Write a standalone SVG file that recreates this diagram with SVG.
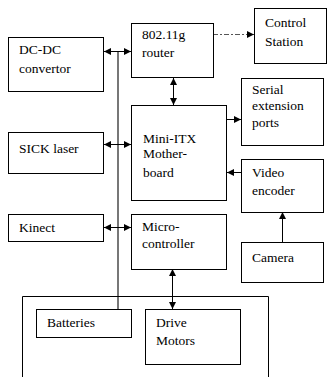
<svg xmlns="http://www.w3.org/2000/svg" width="334" height="377" viewBox="0 0 334 377">
<style>
  .box { fill: #fff; stroke: #000; stroke-width: 1; }
  .lbl { font-family: 'Liberation Serif', 'Times New Roman', 'DejaVu Serif', serif; font-size: 13.5px; fill: #000; }
  .conn { stroke: #000; stroke-width: 1; fill: none; }
  .bus { stroke: #555; stroke-width: 1.6; fill: none; }
  .dash { stroke: #555; stroke-width: 1.2; fill: none; stroke-dasharray: 5 2 2 2; }
</style>
<defs>
  <marker id="ah" viewBox="0 0 10 10" refX="10" refY="5" markerWidth="7" markerHeight="7" markerUnits="userSpaceOnUse" orient="auto-start-reverse">
    <path d="M0,0 L10,5 L0,10 Z" fill="#000"/>
  </marker>
</defs>
<rect width="334" height="377" fill="#fff"/>

<g id="connectors">
  <line class="bus" x1="118" y1="51" x2="118" y2="309"/>
  <line class="conn" x1="104" y1="51.5" x2="131" y2="51.5" marker-start="url(#ah)" marker-end="url(#ah)"/>
  <line class="conn" x1="104" y1="144.5" x2="131" y2="144.5" marker-start="url(#ah)" marker-end="url(#ah)"/>
  <line class="conn" x1="104" y1="227.5" x2="131" y2="227.5" marker-start="url(#ah)" marker-end="url(#ah)"/>
  <line class="conn" x1="173.5" y1="78" x2="173.5" y2="105" marker-start="url(#ah)" marker-end="url(#ah)"/>
  <line class="conn" x1="172.5" y1="269" x2="172.5" y2="309" marker-start="url(#ah)" marker-end="url(#ah)"/>
  <line class="dash" x1="213" y1="34.5" x2="254" y2="34.5" marker-end="url(#ah)"/>
  <line class="conn" x1="227" y1="119.5" x2="241" y2="119.5" marker-end="url(#ah)"/>
  <line class="conn" x1="241" y1="172.5" x2="227" y2="172.5" marker-end="url(#ah)"/>
  <line class="conn" x1="282.5" y1="242" x2="282.5" y2="212" marker-end="url(#ah)"/>
</g>

<g id="chassis">
  <path class="conn" d="M22.5,377 V296.5 H268.5 V377"/>
</g>

<g font-family="Liberation Serif, Times New Roman, serif">
<g id="dcdc">
  <rect class="box" x="8.5" y="37.5" width="95" height="54"/>
  <text class="lbl" x="19" y="54">DC-DC</text>
  <text class="lbl" x="19" y="73">convertor</text>
</g>

<g id="router">
  <rect class="box" x="131.5" y="23.5" width="82" height="54"/>
  <text class="lbl" x="142" y="39">802.11g</text>
  <text class="lbl" x="142" y="57">router</text>
</g>

<g id="control">
  <rect class="box" x="254.5" y="8.5" width="72" height="55"/>
  <text class="lbl" x="265" y="27">Control</text>
  <text class="lbl" x="265" y="46">Station</text>
</g>

<g id="serial">
  <rect class="box" x="241.5" y="78.5" width="82" height="67"/>
  <text class="lbl" x="252" y="94">Serial</text>
  <text class="lbl" x="252" y="110">extension</text>
  <text class="lbl" x="252" y="127">ports</text>
</g>

<g id="sick">
  <rect class="box" x="8.5" y="132.5" width="95" height="41"/>
  <text class="lbl" x="19" y="153">SICK laser</text>
</g>

<g id="motherboard">
  <rect class="box" x="131.5" y="105.5" width="95" height="95"/>
  <text class="lbl" x="143" y="143">Mini-ITX</text>
  <text class="lbl" x="143" y="158">Mother-</text>
  <text class="lbl" x="143" y="177">board</text>
</g>

<g id="video">
  <rect class="box" x="241.5" y="159.5" width="82" height="53"/>
  <text class="lbl" x="252" y="177">Video</text>
  <text class="lbl" x="252" y="195">encoder</text>
</g>

<g id="kinect">
  <rect class="box" x="8.5" y="214.5" width="95" height="27"/>
  <text class="lbl" x="19" y="232">Kinect</text>
</g>

<g id="micro">
  <rect class="box" x="131.5" y="214.5" width="95" height="55"/>
  <text class="lbl" x="142" y="231">Micro-</text>
  <text class="lbl" x="142" y="248">controller</text>
</g>

<g id="camera">
  <rect class="box" x="241.5" y="242.5" width="82" height="40"/>
  <text class="lbl" x="252" y="262">Camera</text>
</g>

<g id="batteries">
  <rect class="box" x="36.5" y="309.5" width="95" height="28"/>
  <text class="lbl" x="47" y="327">Batteries</text>
</g>

<g id="drive">
  <rect class="box" x="145.5" y="309.5" width="95" height="55"/>
  <text class="lbl" x="156" y="327">Drive</text>
  <text class="lbl" x="156" y="345">Motors</text>
</g>
</g>
</svg>
